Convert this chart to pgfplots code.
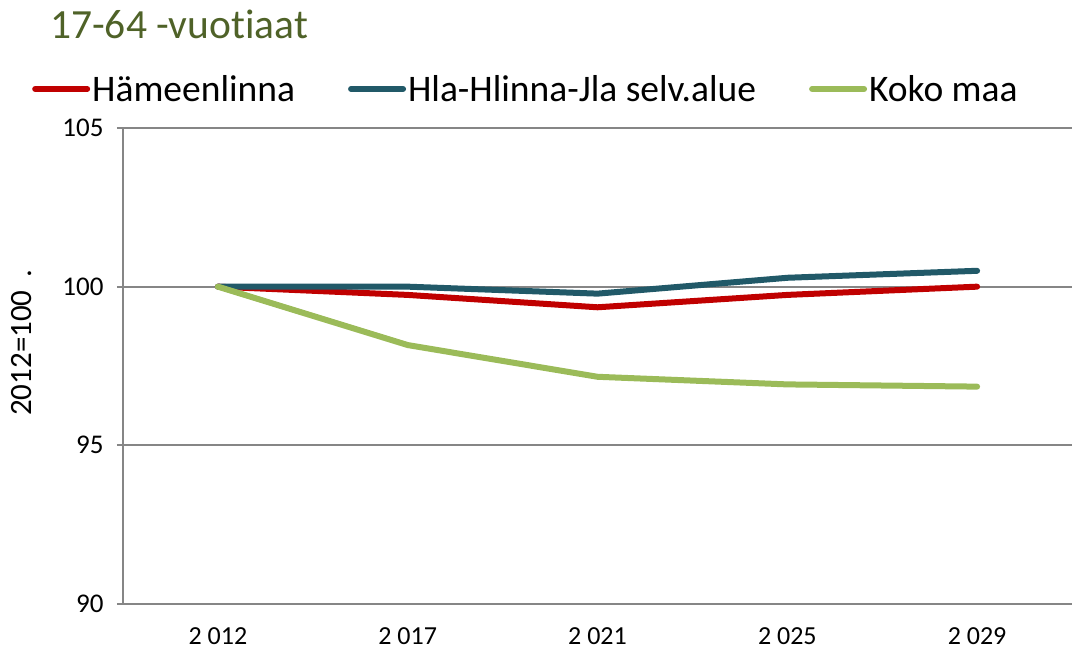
\documentclass[border=0pt]{standalone}
\usepackage{fontspec}
\setmainfont{Carlito}[Ligatures={NoCommon}]
\usepackage{pgfplots}
\pgfplotsset{compat=1.18}

\definecolor{cRed}{HTML}{C00000}
\definecolor{cTeal}{HTML}{215968}
\definecolor{cGreen}{HTML}{9BBB59}
\definecolor{cGrid}{HTML}{868686}
\definecolor{cTitle}{HTML}{4F6228}

\begin{document}
\begin{tikzpicture}
\path (0pt,0pt) rectangle (1082pt,653pt);
\node[anchor=base west, text=cTitle, font=\fontsize{41.5}{41.5}\selectfont, inner sep=0pt]
  at (50pt,614pt) {17-64 -vuotiaat};
\node[rotate=90, anchor=base west, font=\fontsize{31}{31}\selectfont, inner sep=0pt]
  at (32pt,237pt) {2012=100\hspace{13pt}.};
\begin{axis}[
    scale only axis,
    width=949pt, height=476pt,
    at={(123pt,49pt)}, anchor=south west,
    xmin=-0.5, xmax=4.5,
    ymin=90, ymax=105,
    axis x line*=bottom, axis y line*=left,
    axis line style={cGrid, line width=2pt, -},
    ytick={90,95,100,105},
    xtick={0,1,2,3,4},
    xticklabels={2 012,2 017,2 021,2 025,2 029},
    x tick style={draw=none},
    extra x ticks={-0.5,0.5,1.5,2.5,3.5,4.5},
    extra x tick labels={},
    extra x tick style={tick style={draw=cGrid, line width=2pt}, major tick length=7pt},
    y tick style={draw=cGrid, line width=2pt},
    tick align=outside,
    major tick length=6pt,
    ymajorgrids,
    grid style={cGrid, line width=1.8pt},
    /pgf/number format/assume math mode=true,
    xticklabel style={font=\fontsize{26}{26}\selectfont, yshift=-14pt},
    yticklabel style={font=\fontsize{27}{27}\selectfont, xshift=-10pt},
    legend columns=3,
    legend style={at={(-0.0959,1.082)}, anchor=west, draw=none, fill=none,
        inner sep=0pt, font=\fontsize{37.5}{37.5}\selectfont,
        nodes={inner sep=2pt},
        /tikz/every even column/.append style={column sep=51pt}},
    legend cell align=left,
    legend image code/.code={\draw[#1, line cap=round] (3pt,0pt) -- (55pt,0pt);},
    every axis plot/.append style={line width=6pt, line cap=round, line join=round},
]
\addplot[cRed, mark=none] coordinates {(0,100) (1,99.74) (2,99.35) (3,99.74) (4,100.0)};
\addlegendentry{Hämeenlinna}
\addplot[cTeal, mark=none] coordinates {(0,100) (1,100.0) (2,99.78) (3,100.28) (4,100.5)};
\addlegendentry{Hla-Hlinna-Jla selv.alue}
\addplot[cGreen, mark=none] coordinates {(0,100) (1,98.16) (2,97.16) (3,96.92) (4,96.85)};
\addlegendentry{Koko maa}
\end{axis}
\end{tikzpicture}
\end{document}
